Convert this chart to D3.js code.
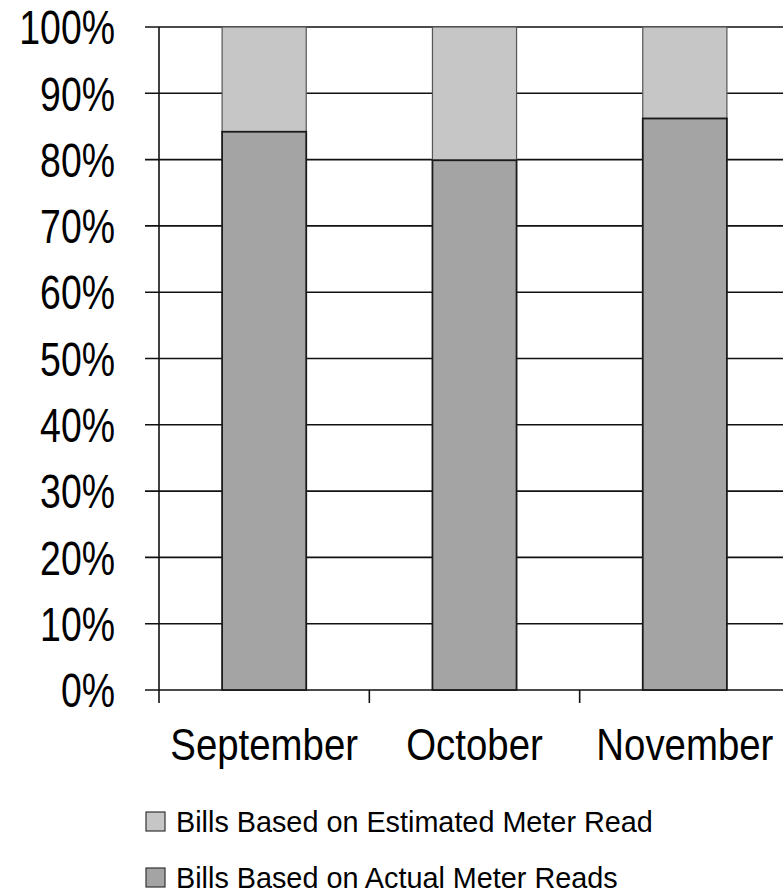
<!DOCTYPE html>
<html>
<head>
<meta charset="utf-8">
<script src="https://cdn.jsdelivr.net/npm/d3@7"></script>
<style>
  html, body { margin: 0; padding: 0; background: #fff; }
  svg { display: block; }
  text { font-family: "Liberation Sans", Arial, sans-serif; }
</style>
</head>
<body>
<svg id="chart" width="783" height="894"></svg>
<script>
const months = ["September", "October", "November"];
const actualReads = [84.2, 79.9, 86.2];
const estimatedReads = [15.8, 20.1, 13.8];
const yTicks = [0, 10, 20, 30, 40, 50, 60, 70, 80, 90, 100];
const seriesNames = ["Bills Based on Estimated Meter Read", "Bills Based on Actual Meter Reads"];
const seriesColors = ["#c6c6c6", "#a4a4a4"];

const svg = d3.select("#chart");
const plotL = 159, plotR = 790, plotT = 27, plotB = 690;

const x = d3.scaleBand().domain(months).range([plotL, plotR]).paddingInner(0.6).paddingOuter(0.3);
const y = d3.scaleLinear().domain([0, 100]).range([plotB, plotT]);

// gridlines
svg.append("g").selectAll("line").data(yTicks).join("line")
  .attr("x1", plotL - 14).attr("x2", 783)
  .attr("y1", d => y(d)).attr("y2", d => y(d))
  .attr("stroke", "#111").attr("stroke-width", 1.6);

// y axis line
svg.append("line").attr("x1", plotL).attr("x2", plotL)
  .attr("y1", y(100)).attr("y2", y(0) + 13)
  .attr("stroke", "#111").attr("stroke-width", 1.6);

// category ticks (between categories)
const step = x.step();
const tickPos = d3.range(1, months.length + 1).map(i => plotL + i * step);
svg.append("g").selectAll("line").data(tickPos).join("line")
  .attr("x1", d => d).attr("x2", d => d)
  .attr("y1", y(0)).attr("y2", y(0) + 13)
  .attr("stroke", "#111").attr("stroke-width", 1.6);

// y labels (condensed)
svg.append("g").selectAll("g").data(yTicks).join("g")
  .attr("transform", d => `translate(115, ${y(d)}) scale(0.78, 1)`)
  .append("text")
  .attr("dy", "0.36em")
  .attr("text-anchor", "end")
  .attr("font-size", 48).attr("fill", "#000")
  .text(d => d + "%");

// stacked bars
const rows = months.map((m, i) => ({ month: m, actual: actualReads[i], estimated: estimatedReads[i] }));
const stack = d3.stack().keys(["actual", "estimated"])(rows);
const strokeCols = ["#1a1a1a", "#555"];
[1, 0].forEach(k => {
  svg.append("g").selectAll("rect").data(stack[k]).join("rect")
    .attr("x", d => x(d.data.month))
    .attr("width", x.bandwidth())
    .attr("y", d => y(d[1]))
    .attr("height", d => y(d[0]) - y(d[1]))
    .attr("fill", k === 0 ? seriesColors[1] : seriesColors[0])
    .attr("stroke", strokeCols[k])
    .attr("stroke-width", k === 0 ? 1.8 : 1.2);
});

// category labels (condensed)
svg.append("g").selectAll("g").data(months).join("g")
  .attr("transform", d => `translate(${x(d) + x.bandwidth() / 2}, 760) scale(0.853, 1)`)
  .append("text")
  .attr("text-anchor", "middle")
  .attr("font-size", 45).attr("fill", "#000")
  .text(d => d);

// legend
const lg = svg.append("g").selectAll("g").data(seriesNames).join("g")
  .attr("transform", (d, i) => `translate(146, ${812 + i * 56})`);
lg.append("rect").attr("width", 19).attr("height", 19)
  .attr("fill", (d, i) => seriesColors[i])
  .attr("stroke", "#333").attr("stroke-width", 1.2);
lg.append("g").attr("transform", "translate(30, 20) scale(0.96, 1)")
  .append("text")
  .attr("font-size", 30).attr("fill", "#000")
  .text(d => d);
</script>
</body>
</html>
